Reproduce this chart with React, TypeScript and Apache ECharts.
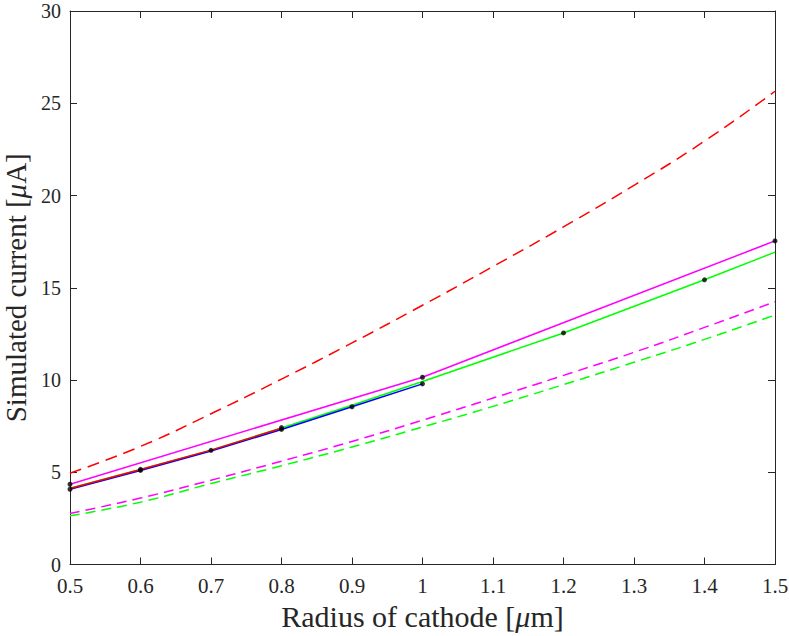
import React, { useEffect, useRef } from "react";
import * as echarts from "echarts";

// Radius of cathode [µm]
const radiusFine = [0.5, 0.6, 0.7, 0.8, 0.9, 1.0, 1.1, 1.2, 1.3, 1.4, 1.5];
const radiusRed = [0.5, 0.6, 0.7, 0.8];
const radiusBlue = [0.5, 0.6, 0.7, 0.8, 0.9, 1.0];
const radiusGreen = [0.5, 0.6, 0.7, 0.8, 0.9, 1.0, 1.2, 1.4, 1.5];
const radiusMagenta = [0.5, 1.0, 1.5];

// Solid (simulated) curves [µA]
const redSolid = [4.12, 5.15, 6.2, 7.38];
const blueSolid = [4.08, 5.1, 6.15, 7.32, 8.55, 9.79];
const greenSolid = [4.13, 5.15, 6.2, 7.4, 8.63, 9.92, 12.55, 15.43, 16.93];
const magentaSolid = [4.35, 10.15, 17.54];

// Dashed (model) curves [µA]
const redDashed = [4.95, 6.4, 8.17, 10.05, 12.01, 14.05, 16.15, 18.3, 20.55, 22.95, 25.65];
const magentaDashed = [2.77, 3.6, 4.57, 5.6, 6.67, 7.82, 9.02, 10.25, 11.5, 12.85, 14.24];
const greenDashed = [2.64, 3.38, 4.39, 5.35, 6.37, 7.45, 8.57, 9.75, 10.96, 12.2, 13.52];

// Black sample points
const pointX = [0.5, 0.5, 0.6, 0.6, 0.7, 0.8, 0.8, 0.9, 1.0, 1.0, 1.2, 1.4, 1.5];
const pointY = [4.35, 4.08, 5.16, 5.1, 6.19, 7.42, 7.32, 8.55, 10.15, 9.79, 12.55, 15.43, 17.54];

const xTickMin = 0.5;
const xTickMax = 1.5;
const yTickMin = 0;
const yTickMax = 30;

const zip = (xs: number[], ys: number[]) => xs.map((x, i) => [x, ys[i]]);

const FONT = "'Liberation Serif', 'DejaVu Serif', serif";
const AXIS_COLOR = "#262626";

export default function App() {
  const ref = useRef<HTMLDivElement>(null);

  useEffect(() => {
    document.body.style.margin = "0";
    if (!ref.current) return;
    const chart = echarts.init(ref.current, undefined, { renderer: "svg" });

    const axisCommon = {
      axisLine: { show: true, onZero: false, lineStyle: { color: AXIS_COLOR, width: 1 } },
      axisTick: { show: true, inside: true, length: 7, lineStyle: { color: AXIS_COLOR, width: 1 } },
      splitLine: { show: false },
    };

    const solid = (name: string, xs: number[], ys: number[], color: string) => ({
      name,
      type: "line",
      data: zip(xs, ys),
      showSymbol: false,
      symbol: "none",
      lineStyle: { color, width: 1.5, type: "solid" },
      z: 3,
    });
    const dashed = (name: string, ys: number[], color: string, dash: number[]) => ({
      name,
      type: "line",
      data: zip(radiusFine, ys),
      smooth: true,
      showSymbol: false,
      symbol: "none",
      lineStyle: { color, width: 1.5, type: dash },
      z: 2,
    });

    chart.setOption({
      animation: false,
      backgroundColor: "#ffffff",
      grid: {
        left: 70,
        right: 14,
        top: 11,
        bottom: 71.5,
        containLabel: false,
        outerBoundsMode: "none",
      },
      xAxis: [
        {
          type: "value",
          min: xTickMin,
          max: xTickMax,
          interval: 0.1,
          ...axisCommon,
          axisLabel: {
            show: true,
            margin: 11,
            color: AXIS_COLOR,
            fontFamily: FONT,
            fontSize: 21,
            formatter: (v: number) => String(+v.toFixed(1)),
          },
          name: "Radius of cathode [{i|μ}m]",
          nameLocation: "middle",
          nameGap: 36,
          nameTextStyle: {
            fontFamily: FONT,
            fontSize: 30,
            color: AXIS_COLOR,
            rich: { i: { fontFamily: FONT, fontSize: 30, fontStyle: "italic", color: AXIS_COLOR } },
          },
        },
        {
          type: "value",
          position: "top",
          min: xTickMin,
          max: xTickMax,
          interval: 0.1,
          ...axisCommon,
          axisLabel: { show: false },
        },
      ],
      yAxis: [
        {
          type: "value",
          min: yTickMin,
          max: yTickMax,
          interval: 5,
          ...axisCommon,
          axisLabel: {
            show: true,
            margin: 9,
            color: AXIS_COLOR,
            fontFamily: FONT,
            fontSize: 20,
          },
          name: "Simulated current [{i|μ}A]",
          nameLocation: "middle",
          nameGap: 34,
          nameTextStyle: {
            fontFamily: FONT,
            fontSize: 29,
            color: AXIS_COLOR,
            rich: { i: { fontFamily: FONT, fontSize: 29, fontStyle: "italic", color: AXIS_COLOR } },
          },
        },
        {
          type: "value",
          position: "right",
          min: yTickMin,
          max: yTickMax,
          interval: 5,
          ...axisCommon,
          axisLabel: { show: false },
        },
      ],
      series: [
        dashed("red model", redDashed, "#ff0000", [12, 7]),
        dashed("magenta model", magentaDashed, "#ff00ff", [10, 6]),
        dashed("green model", greenDashed, "#00ff00", [10, 6]),
        solid("green sim", radiusGreen, greenSolid, "#00ff00"),
        solid("blue sim", radiusBlue, blueSolid, "#0000ff"),
        solid("red sim", radiusRed, redSolid, "#ff0000"),
        solid("magenta sim", radiusMagenta, magentaSolid, "#ff00ff"),
        {
          name: "points",
          type: "scatter",
          data: zip(pointX, pointY),
          symbol: "circle",
          symbolSize: 5,
          itemStyle: { color: "#000000" },
          z: 5,
        },
      ],
    });

    return () => chart.dispose();
  }, []);

  return <div ref={ref} style={{ width: 789, height: 636 }} />;
}
